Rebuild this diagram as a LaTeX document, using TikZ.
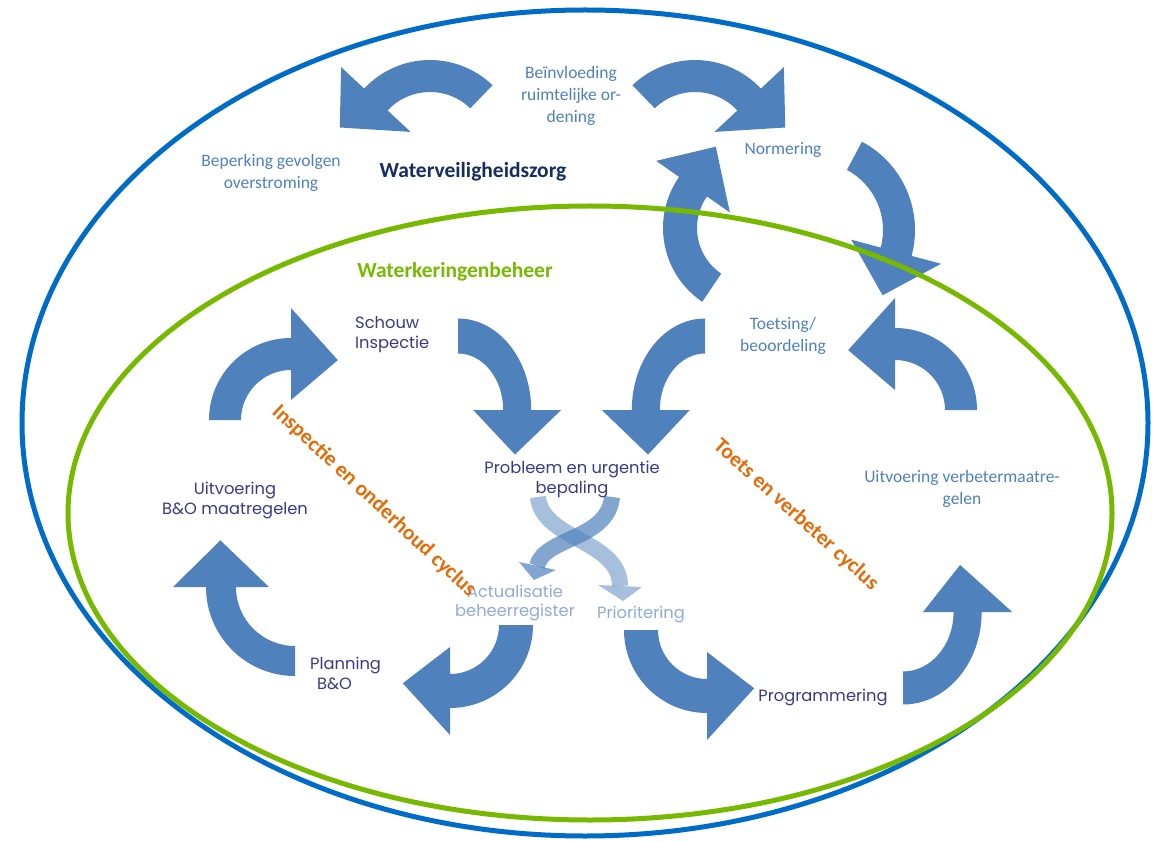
\documentclass[tikz,border=0pt]{standalone}
\usepackage{fontspec}
\setmainfont{Carlito}
\newfontfamily\gothic{Poppins}
\definecolor{ellblue}{RGB}{0,108,200}
\definecolor{ellgreen}{RGB}{118,185,0}
\definecolor{arrowblue}{RGB}{79,129,189}
\definecolor{lighttext}{RGB}{79,129,189}
\definecolor{navytext}{RGB}{58,58,135}
\definecolor{darknavy}{RGB}{23,45,95}
\definecolor{orangetext}{RGB}{228,108,10}
\definecolor{fadetext}{RGB}{143,170,220}
\tikzset{
  arr/.style={fill=arrowblue},
  lbl/.style={text=lighttext, font=\fontsize{17.5}{22}\selectfont, align=center, inner sep=0pt},
  nav/.style={text=navytext, font=\gothic\fontsize{16.3}{20}\selectfont, align=center, inner sep=0pt},
  fade/.style={text=fadetext, font=\gothic\fontsize{16.3}{19}\selectfont, align=center, inner sep=0pt},
  cyc/.style={text=orangetext, font=\bfseries\fontsize{21.5}{21.5}\selectfont, inner sep=0pt},
  title/.style={font=\bfseries\fontsize{21.5}{21.5}\selectfont, inner sep=0pt},
  ell/.style={line width=5pt}
}
% #1 options (shift, scale), #2 mid radius, #3 band width, #4 start angle,
% #5 end angle, #6 head width, #7 tip angle offset, #8 tip radius
\newcommand\barrow[8][]{%
  \begin{scope}[#1]
  \fill[arr] (#4:{#2+#3/2}) arc[start angle=#4, end angle=#5, radius={#2+#3/2}]
     -- (#5:{#2+#6/2}) -- ({#5+#7}:#8) -- (#5:{#2-#6/2}) -- (#5:{#2-#3/2})
     arc[start angle=#5, end angle=#4, radius={#2-#3/2}] -- cycle;
  \end{scope}}
\begin{document}
\begin{tikzpicture}[x=1pt,y=-1pt]
\useasboundingbox (0,0) rectangle (1165,842);
\fill[white] (0,0) rectangle (1165,842);

% outer cycle arrows
\barrow[shift={(430,150)}]{74}{32}{-46}{-137}{95}{-29}{93}
\barrow[shift={(695,150)}]{74}{32}{-134}{-43}{95}{29}{93}
\barrow[shift={(815,230)}]{84}{32}{-62}{15}{93}{29}{94}
\barrow[shift={(752,228)}]{72}{34}{124}{215}{90}{31}{89}
% inner cycles
\barrow[shift={(458,410)},xscale=0.8]{74}{35}{-90}{0}{110}{32}{84}
\barrow[shift={(705,410)},xscale=-0.8]{74}{35}{-90}{0}{110}{32}{84}
\barrow[shift={(895,410)}]{66}{32}{0}{-90}{92}{-38}{76}
\barrow[shift={(291,420)},xscale=-1]{66}{32}{0}{-90}{92}{-38}{76}
\barrow[shift={(295,587)}]{74}{30}{90}{180}{96}{32}{88}
\barrow[shift={(450,625)}]{66}{34}{0}{90}{88}{39}{75}
\barrow[shift={(707,630)},xscale=-1]{66}{34}{0}{90}{88}{39}{75}
\barrow[shift={(903,612)},xscale=0.85]{76}{33}{90}{0}{105}{-35}{82}

% faded crossing arrows
\draw[line width=16pt, draw=arrowblue, draw opacity=0.5] (538,497) .. controls (542,540) and (620,540) .. (620,586);
\fill[arrowblue, opacity=0.5] (598,585) -- (642,587) -- (623,601) -- cycle;
\draw[line width=16pt, draw=arrowblue, draw opacity=0.7] (612,497) .. controls (608,540) and (544,537) .. (537,566);
\fill[arrowblue, opacity=0.7] (519,562) -- (556,570) -- (534,580) -- cycle;

% ellipses
\draw[ell, ellblue] (585,423) ellipse [x radius=563, y radius=413];
\draw[ell, ellgreen] (590,513) ellipse [x radius=522, y radius=307];

% labels
\node[lbl] (bein) at (571,96) {Beïnvloeding\\ruimtelijke or-\\dening};
\node[lbl] (norm) at (783,150) {Normering};
\node[lbl] (bep) at (271,173) {Beperking gevolgen\\overstroming};
\node[title, text=darknavy] (wvz) at (473,172) {Waterveiligheidszorg};
\node[title, text=ellgreen] (wkb) at (455,272) {Waterkeringenbeheer};
\node[nav, align=left, anchor=west] (schouw) at (355,335) {Schouw\\Inspectie};
\node[lbl] (toets) at (783,336) {Toetsing/\\beoordeling};
\node[nav] (prob) at (572,479) {Probleem en urgentie\\bepaling};
\node[nav] (uitbo) at (235,500) {Uitvoering\\B\&O maatregelen};
\node[lbl] (uitvb) at (962,489) {Uitvoering verbetermaatre-\\gelen};
\node[fade] (actu) at (515,603) {Actualisatie\\beheerregister};
\node[fade] (prio) at (641,614) {Prioritering};
\node[nav, align=left, anchor=west] (plan) at (310,673) {Planning\\\hspace*{7pt}B\&O};
\node[nav] (prog) at (823,697) {Programmering};
\node[cyc, rotate=-43] (ioc) at (374,501) {Inspectie en onderhoud cyclus};
\node[cyc, rotate=-42] (tvc) at (796,515) {Toets en verbeter cyclus};
\end{tikzpicture}
\end{document}
